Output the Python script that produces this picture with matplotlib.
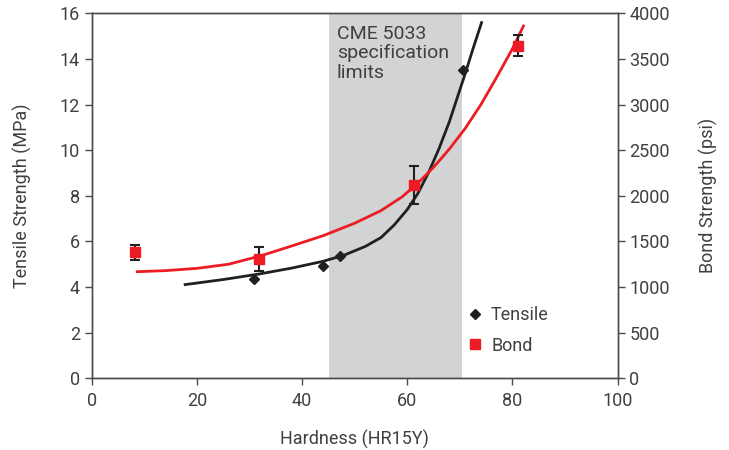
import numpy as np
import matplotlib.pyplot as plt

plt.rcParams['font.family'] = ['Roboto', 'DejaVu Sans']

# tensile strength data (MPa)
tensile_x = [30.8, 44.0, 47.3, 70.5]
tensile_y = [4.34, 4.93, 5.34, 13.5]

# bond strength data (psi)
bond_x = [8.2, 31.8, 61.3, 81.0]
bond_y = [1380, 1308, 2118, 3643]
bond_err = [80, 132, 205, 115]

# trend lines
tensile_fit_x = [17.5, 25, 32, 38, 44, 48, 52, 55, 57.5, 60, 62, 64, 66, 68, 70, 71, 72.5, 74.2]
tensile_fit_y = [4.10, 4.33, 4.58, 4.83, 5.13, 5.40, 5.78, 6.17, 6.72, 7.40, 8.10, 9.0, 10.05,
                 11.25, 12.65, 13.35, 14.45, 15.65]
bond_fit_x = [8.4, 14, 20, 26, 32, 38, 44, 50, 55, 59, 62, 65, 68, 71, 74, 77, 80, 82.2]
bond_fit_y = [1168, 1180, 1205, 1250, 1340, 1450, 1563, 1700, 1838, 1988, 2138, 2313, 2513,
              2738, 3000, 3300, 3613, 3875]

spec_lo, spec_hi = 45.2, 70.4

txt = '#404040'
fig = plt.figure(figsize=(7.29, 4.5), dpi=100)
ax = fig.add_axes([0.1258, 0.1593, 0.7215, 0.8111])
ax2 = ax.twinx()

ax.axvspan(spec_lo, spec_hi, color='#d1d3d4', lw=0, zorder=0)
ax.text(46.6, 15.5, 'CME 5033\nspecification\nlimits', fontsize=14, color=txt,
        va='top', ha='left', linespacing=1.1)

ax.plot(tensile_fit_x, tensile_fit_y, color='#231f20', lw=2, solid_capstyle='butt', zorder=3)
ax.plot(tensile_x, tensile_y, 'D', color='#231f20', ms=5.5, ls='none', zorder=4)

ax2.plot(bond_fit_x, bond_fit_y, color='#ed1c24', lw=2, solid_capstyle='butt', zorder=2)
ax2.errorbar(bond_x, bond_y, yerr=bond_err, fmt='none', ecolor='#231f20',
             elinewidth=1.5, capsize=3.5, capthick=1.5, zorder=3)
ax2.plot(bond_x, bond_y, 's', color='#ed1c24', ms=7, ls='none', zorder=4)

ax.set_xlim(0, 100)
ax.set_ylim(0, 16)
ax2.set_ylim(0, 4000)
ax.set_xticks(np.arange(0, 101, 20))
ax.set_yticks(np.arange(0, 17, 2))
ax2.set_yticks(np.arange(0, 4001, 500))

for a in (ax, ax2):
    for s in a.spines.values():
        s.set_color('#4a4a4a')
        s.set_linewidth(1)
    a.tick_params(colors='#4a4a4a', labelcolor=txt, labelsize=13, length=5, width=1, direction='out')
ax.tick_params(axis='x', pad=5)

ax.set_xlabel('Hardness (HR15Y)', fontsize=13, color=txt, labelpad=14)
ax.set_ylabel('Tensile Strength (MPa)', fontsize=13, color=txt, labelpad=20)
ax2.set_ylabel('Bond Strength (psi)', fontsize=13, color=txt, labelpad=21)

h1 = ax.plot([], [], 'D', color='#231f20', ms=5.5, ls='none', label='Tensile')[0]
h2 = ax.plot([], [], 's', color='#ed1c24', ms=7, ls='none', label='Bond')[0]
ax2.legend(handles=[h1, h2], loc='lower right', bbox_to_anchor=(0.9, 0.02), frameon=False,
           fontsize=13, handletextpad=0.3, labelspacing=0.7, labelcolor=txt, handlelength=1.2)

fig.savefig('out.png', dpi=100)
